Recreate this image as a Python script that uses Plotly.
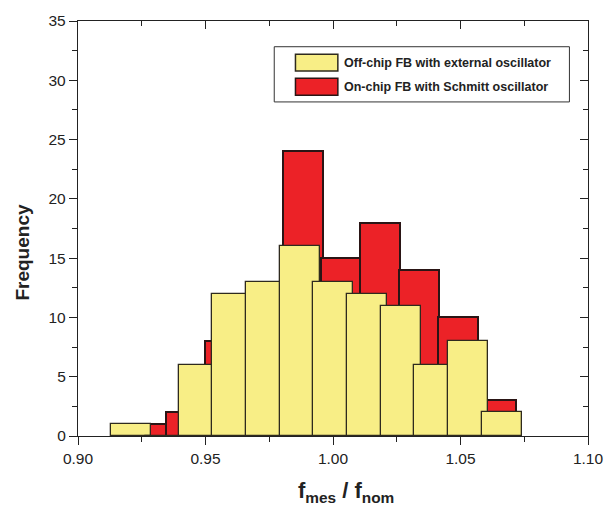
import plotly.graph_objects as go

# Histogram bins: centres of each bin (f_mes / f_nom) and counts
offchip_centers = [0.9209, 0.9341, 0.9473, 0.9605, 0.9737, 0.9869,
                   1.0001, 1.0134, 1.0266, 1.0398, 1.0530, 1.0662]
offchip_counts = [1, 0, 6, 12, 13, 16, 13, 12, 11, 6, 8, 2]

onchip_centers = [0.9273, 0.9425, 0.9577, 0.9729, 0.9881,
                  1.0033, 1.0185, 1.0337, 1.0489, 1.0641]
onchip_counts = [1, 2, 8, 5, 24, 15, 18, 14, 10, 3]

bar_width = 0.0157

offchip_name = "Off-chip FB with external oscillator"
onchip_name = "On-chip FB with Schmitt oscillator"

YELLOW = "#F8EE86"
RED = "#EC2227"
FONT = "Liberation Sans, Arial, sans-serif"

fig = go.Figure()

fig.add_trace(go.Bar(
    x=onchip_centers, y=onchip_counts, width=[bar_width] * len(onchip_centers),
    name=onchip_name, marker=dict(color=RED, line=dict(color="#2a1515", width=2)),
))
fig.add_trace(go.Bar(
    x=offchip_centers, y=offchip_counts, width=[bar_width] * len(offchip_centers),
    name=offchip_name, marker=dict(color=YELLOW, line=dict(color="#2e2a1e", width=1.3)),
))

axis_common = dict(
    showgrid=False, zeroline=False, showline=True, linecolor="#222", linewidth=1.3,
    ticks="outside", ticklen=8, tickwidth=1.3, tickcolor="#222",
    tickfont=dict(family=FONT, size=15.5, color="#222"),
)

fig.update_layout(
    width=615, height=506,
    margin=dict(l=78, r=16, t=17, b=70),
    paper_bgcolor="white", plot_bgcolor="white",
    barmode="overlay", bargap=0, showlegend=False,
    xaxis=dict(range=[0.90, 1.10], dtick=0.05, tick0=0.90, tickformat=".2f",
               mirror=True,
               minor=dict(dtick=0.025, ticks="outside", ticklen=5, tickcolor="#222"),
               **axis_common),
    yaxis=dict(range=[0, 35], dtick=5, tick0=0, mirror=True,
               minor=dict(dtick=2.5, ticks="outside", ticklen=5, tickcolor="#222"),
               **axis_common),
    # inward ticks along the top and right frame
    xaxis2=dict(overlaying="x", side="top", range=[0.90, 1.10], dtick=0.05, tick0=0.90,
                showticklabels=False, showgrid=False, zeroline=False,
                ticks="inside", ticklen=8, tickwidth=1.3, tickcolor="#222",
                minor=dict(dtick=0.025, ticks="inside", ticklen=5, tickcolor="#222")),
    yaxis2=dict(overlaying="y", side="right", range=[0, 35], dtick=5, tick0=0,
                showticklabels=False, showgrid=False, zeroline=False,
                ticks="inside", ticklen=8, tickwidth=1.3, tickcolor="#222",
                minor=dict(dtick=2.5, ticks="inside", ticklen=5, tickcolor="#222")),
)
fig.add_trace(go.Scatter(x=[], y=[], xaxis="x2", yaxis="y2", showlegend=False))

# axis titles
fig.add_annotation(
    text="<b>Frequency</b>", textangle=-90, xref="paper", yref="paper",
    x=-0.109, y=0.443, showarrow=False, xanchor="center", yanchor="middle",
    font=dict(family=FONT, size=19, color="#222"),
)
fig.add_annotation(
    text="<b>f<sub>mes</sub> / f<sub>nom</sub></b>", xref="paper", yref="paper",
    x=0.525, y=-0.135, showarrow=False, xanchor="center", yanchor="middle",
    font=dict(family=FONT, size=22, color="#222"),
)

# legend box
fig.add_shape(type="rect", xref="paper", yref="paper", x0=0.3848, x1=0.9636,
              y0=0.805, y1=0.938, line=dict(color="#333", width=1), fillcolor="white")
legend_rows = [(offchip_name, YELLOW, "#2e2a1e", 0.9196, 0.8797, 0.8997),
               (onchip_name, RED, "#2a1515", 0.8623, 0.8210, 0.8415)]
for name, fill, edge, ytop, ybot, ytxt in legend_rows:
    fig.add_shape(type="rect", xref="paper", yref="paper", x0=0.4264, x1=0.5095,
                  y0=ybot, y1=ytop, line=dict(color=edge, width=1.5), fillcolor=fill)
    fig.add_annotation(text="<b>%s</b>" % name, xref="paper", yref="paper",
                       x=0.518, y=ytxt, xanchor="left", yanchor="middle", showarrow=False,
                       font=dict(family=FONT, size=12.5, color="#222"))

fig.write_html("out.html")
